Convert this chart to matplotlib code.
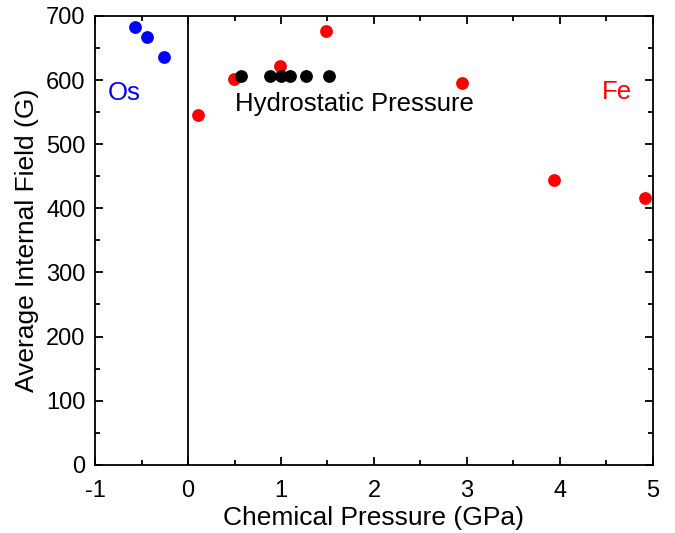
import matplotlib
matplotlib.use("Agg")
import matplotlib.pyplot as plt
from matplotlib.ticker import MultipleLocator

plt.rcParams['font.family'] = ['Liberation Sans', 'DejaVu Sans']
plt.rcParams['axes.unicode_minus'] = False

# Os doped (negative chemical pressure)
os_x = [-0.57, -0.44, -0.26]
os_y = [683, 668, 636]

# Fe doped
fe_x = [0.11, 0.49, 0.99, 1.48, 2.95, 3.94, 4.92]
fe_y = [546, 602, 622, 677, 596, 444, 416]

# hydrostatic pressure
hp_x = [0.57, 0.88, 1.00, 1.10, 1.27, 1.52]
hp_y = [606, 606, 606, 606, 606, 606]

fig = plt.figure(figsize=(6.75, 5.33), dpi=100)
ax = fig.add_axes([0.141, 0.128, 0.826, 0.842])

ax.axvline(0, color='black', lw=1.3, zorder=1)
ax.scatter(fe_x, fe_y, s=85, color='#ff0000', zorder=3, linewidths=0)
ax.scatter(hp_x, hp_y, s=85, color='black', zorder=4, linewidths=0)
ax.scatter(os_x, os_y, s=85, color='#0000ff', zorder=3, linewidths=0)

ax.text(-0.86, 580, "Os", color='#0000ff', fontsize=18.5, va='center')
ax.text(0.5, 563, "Hydrostatic Pressure", color='black', fontsize=18.5, va='center')
ax.text(4.45, 582, "Fe", color='#ff0000', fontsize=18.5, va='center')

ax.set_xlim(-1, 5)
ax.set_ylim(0, 700)
ax.xaxis.set_major_locator(MultipleLocator(1))
ax.xaxis.set_minor_locator(MultipleLocator(0.5))
ax.yaxis.set_major_locator(MultipleLocator(100))
ax.yaxis.set_minor_locator(MultipleLocator(50))
ax.tick_params(which='both', direction='in', top=True, right=True, width=1.3, labelsize=17)
ax.tick_params(which='major', length=6)
ax.tick_params(which='minor', length=3.5)
ax.tick_params(axis='x', pad=11)
ax.tick_params(axis='y', pad=7)
for sp in ax.spines.values():
    sp.set_linewidth(1.3)

ax.set_xlabel("Chemical Pressure (GPa)", fontsize=19, labelpad=3)
ax.set_ylabel("Average Internal Field (G)", fontsize=19, labelpad=5)

fig.savefig("out.png", dpi=100)
